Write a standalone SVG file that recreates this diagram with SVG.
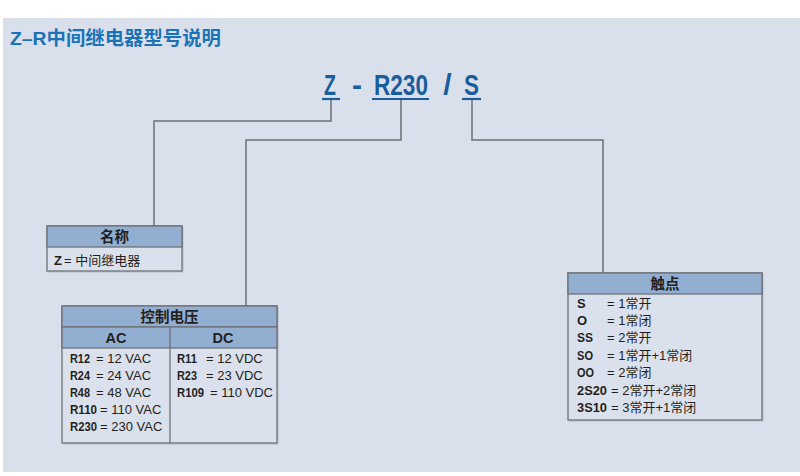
<svg xmlns="http://www.w3.org/2000/svg" width="800" height="476" viewBox="0 0 800 476">
<style>
.cn{font-family:"Liberation Sans","Noto Sans CJK SC",sans-serif;fill:#231f20;font-size:13px}
.b{font-weight:bold}
.h{font-family:"Liberation Sans","Noto Sans CJK SC",sans-serif;font-weight:bold;font-size:14.5px;fill:#231f20;text-anchor:middle}
.box{fill:#dbe1ec;stroke:#6d7075;stroke-width:1.3}
.hd{fill:#92aed1;stroke:#6d7075;stroke-width:1.3}
.sh{fill:none;stroke:#b5bac4;stroke-width:1}
.code{font-family:"Liberation Sans",sans-serif;font-weight:bold;font-size:30px;fill:#1b5d9c}
.ul{stroke:#1b5d9c;stroke-width:2.2}
.conn{fill:none;stroke:#6d7075;stroke-width:1.5}
</style>
<rect x="0" y="0" width="800" height="476" fill="#ffffff"/>
<rect x="3" y="18" width="797" height="454" fill="#dae0eb"/>
<text x="10" y="45" font-family="Liberation Sans,Noto Sans CJK SC,sans-serif" font-weight="bold" font-size="19" fill="#1a73b8" textLength="211" lengthAdjust="spacingAndGlyphs">Z–R中间继电器型号说明</text>

<g id="code">
<text class="code" transform="translate(324,95) scale(0.65,1)">Z</text>
<text class="code" x="357" y="95" text-anchor="middle" font-size="24">-</text>
<text class="code" transform="translate(374,95) scale(0.753,1)">R230</text>
<text class="code" x="447.5" y="95" text-anchor="middle" font-size="26">/</text>
<text class="code" transform="translate(464,95) scale(0.75,1)">S</text>
<line class="ul" x1="322" y1="99" x2="340" y2="99"/>
<line class="ul" x1="372" y1="99" x2="429" y2="99"/>
<line class="ul" x1="462" y1="99" x2="481" y2="99"/>
</g>

<g id="connectors">
<polyline class="conn" points="331,100 331,121 154,121 154,226"/>
<polyline class="conn" points="401,100 401,140 246,140 246,306"/>
<polyline class="conn" points="472,100 472,140 603,140 603,273"/>
</g>

<g id="name-box">
<polyline class="sh" points="183,227 183,272 48,272"/>
<rect class="box" x="47" y="226" width="135" height="45"/>
<rect class="hd" x="47" y="226" width="135" height="21"/>
<text class="h" x="114.5" y="241.5">名称</text>
<text class="cn b" x="54" y="264.5" textLength="8" lengthAdjust="spacingAndGlyphs">Z</text>
<text class="cn" x="64" y="264.5">= 中间继电器</text>
</g>

<g id="voltage-box">
<polyline class="sh" points="278,307 278,444 63,444"/>
<rect class="box" x="62" y="306" width="215" height="137"/>
<rect class="hd" x="62" y="306" width="215" height="21"/>
<rect class="hd" x="62" y="327" width="215" height="21"/>
<line x1="170" y1="327" x2="170" y2="443" stroke="#6d7075" stroke-width="1.3"/>
<text class="h" x="169.5" y="321.5">控制电压</text>
<text class="h" x="116" y="342.5">AC</text>
<text class="h" x="223" y="342.5">DC</text>
<text class="cn b" x="70" y="363" textLength="20" lengthAdjust="spacingAndGlyphs">R12</text><text class="cn" x="96" y="363">= 12 VAC</text>
<text class="cn b" x="70" y="380" textLength="20" lengthAdjust="spacingAndGlyphs">R24</text><text class="cn" x="96" y="380">= 24 VAC</text>
<text class="cn b" x="70" y="397" textLength="20" lengthAdjust="spacingAndGlyphs">R48</text><text class="cn" x="96" y="397">= 48 VAC</text>
<text class="cn b" x="70" y="414" textLength="27" lengthAdjust="spacingAndGlyphs">R110</text><text class="cn" x="100" y="414">= 110 VAC</text>
<text class="cn b" x="70" y="431" textLength="27" lengthAdjust="spacingAndGlyphs">R230</text><text class="cn" x="100" y="431">= 230 VAC</text>
<text class="cn b" x="177" y="363" textLength="20" lengthAdjust="spacingAndGlyphs">R11</text><text class="cn" x="206" y="363">= 12 VDC</text>
<text class="cn b" x="177" y="380" textLength="20" lengthAdjust="spacingAndGlyphs">R23</text><text class="cn" x="206" y="380">= 23 VDC</text>
<text class="cn b" x="177" y="397" textLength="27" lengthAdjust="spacingAndGlyphs">R109</text><text class="cn" x="210" y="397">= 110 VDC</text>
</g>

<g id="contact-box">
<polyline class="sh" points="763,274 763,421 569,421"/>
<rect class="box" x="568" y="273" width="194" height="147"/>
<rect class="hd" x="568" y="273" width="194" height="21"/>
<text class="h" x="665" y="288.5">触点</text>
<text class="cn b" x="577" y="308">S</text><text class="cn" x="607" y="308">= 1常开</text>
<text class="cn b" x="577" y="325">O</text><text class="cn" x="607" y="325">= 1常闭</text>
<text class="cn b" x="577" y="342" textLength="16" lengthAdjust="spacingAndGlyphs">SS</text><text class="cn" x="607" y="342">= 2常开</text>
<text class="cn b" x="577" y="360" textLength="16" lengthAdjust="spacingAndGlyphs">SO</text><text class="cn" x="607" y="360">= 1常开+1常闭</text>
<text class="cn b" x="577" y="377" textLength="17" lengthAdjust="spacingAndGlyphs">OO</text><text class="cn" x="607" y="377">= 2常闭</text>
<text class="cn b" x="577" y="395" textLength="30" lengthAdjust="spacingAndGlyphs">2S20</text><text class="cn" x="611" y="395">= 2常开+2常闭</text>
<text class="cn b" x="577" y="412" textLength="30" lengthAdjust="spacingAndGlyphs">3S10</text><text class="cn" x="611" y="412">= 3常开+1常闭</text>
</g>
</svg>
